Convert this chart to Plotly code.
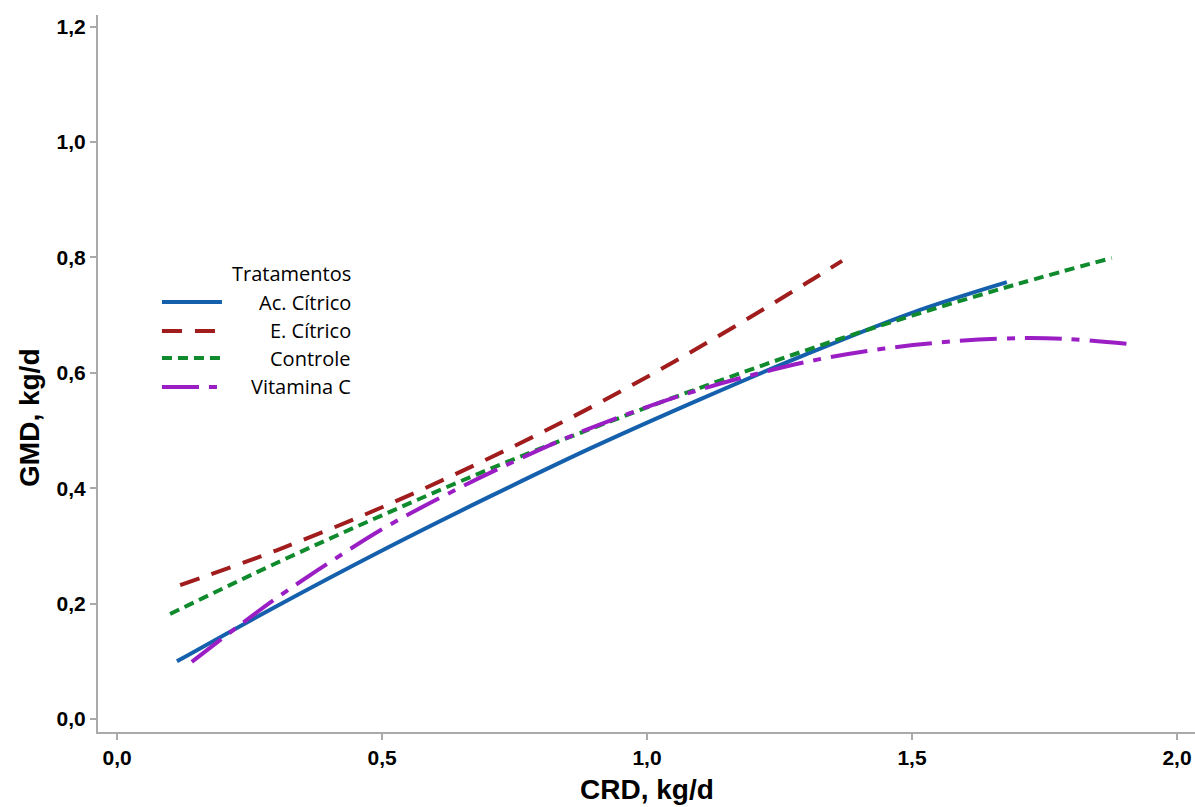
import plotly.graph_objects as go

# ---- data ----
ac_x = [0.113, 0.3, 0.5, 0.7, 0.9, 1.1, 1.3, 1.5, 1.679]
ac_y = [0.100, 0.195, 0.292, 0.384, 0.472, 0.554, 0.632, 0.704, 0.757]

ec_x = [0.119, 0.3, 0.5, 0.7, 0.9, 1.1, 1.3, 1.368]
ec_y = [0.232, 0.292, 0.367, 0.451, 0.543, 0.645, 0.755, 0.794]

ct_x = [0.10, 0.3, 0.5, 0.7, 0.9, 1.1, 1.3, 1.5, 1.7, 1.877]
ct_y = [0.182, 0.270, 0.353, 0.432, 0.505, 0.574, 0.639, 0.699, 0.754, 0.799]

vc_x = [0.141, 0.219, 0.294, 0.377, 0.502, 0.613, 0.723, 0.874, 1.062, 1.219, 1.345, 1.502, 1.66, 1.785, 1.908]
vc_y = [0.099, 0.154, 0.205, 0.257, 0.330, 0.385, 0.435, 0.497, 0.560, 0.601, 0.627, 0.648, 0.659, 0.659, 0.650]

names = ["Ac. Cítrico", "E. Cítrico", "Controle", "Vitamina C"]
xs = [ac_x, ec_x, ct_x, vc_x]
ys = [ac_y, ec_y, ct_y, vc_y]
colors = ["#1560ad", "#a11c1c", "#0f8a2c", "#9a1ec4"]
dashes = ["solid", "20px,13px", "10px,6px", "37px,10px,8px,10px"]

x_ticks = [0.0, 0.5, 1.0, 1.5, 2.0]
y_ticks = [0.0, 0.2, 0.4, 0.6, 0.8, 1.0, 1.2]

fig = go.Figure()
for n, x, y, c, d in zip(names, xs, ys, colors, dashes):
    fig.add_trace(go.Scatter(x=x, y=y, mode="lines", name=n, showlegend=False,
                             line=dict(color=c, width=4, dash=d, shape="spline", smoothing=1.0)))

tick_font = dict(family="Liberation Sans, Arial", size=21, color="black", weight="bold")
fig.update_xaxes(range=[-0.036, 2.034], tickvals=x_ticks, tickformat=".1f",
                 showline=True, linecolor="#aaaaaa", linewidth=2, ticks="outside",
                 tickcolor="#aaaaaa", ticklen=6, tickwidth=1.5, showgrid=False, zeroline=False,
                 tickfont=tick_font)
fig.update_yaxes(range=[-0.0225, 1.22], tickvals=y_ticks, tickformat=".1f",
                 showline=True, linecolor="#aaaaaa", linewidth=2, ticks="outside",
                 tickcolor="#aaaaaa", ticklen=6, tickwidth=1.5, showgrid=False, zeroline=False,
                 tickfont=tick_font)

# axis titles
fig.add_annotation(text="<b>CRD, kg/d</b>", xref="paper", yref="paper", x=0.5, y=-0.0795,
                   xanchor="center", yanchor="middle", showarrow=False,
                   font=dict(family="Liberation Sans, Arial", size=28, color="black"))
fig.add_annotation(text="<b>GMD, kg/d</b>", xref="paper", yref="paper", x=-0.062, y=0.438,
                   xanchor="center", yanchor="middle", showarrow=False, textangle=-90,
                   font=dict(family="Liberation Sans, Arial", size=28, color="black"))

# legend (drawn manually to reproduce right-aligned labels)
leg_font = dict(family="Open Sans", size=20, color="black")
fig.add_annotation(text="Tratamentos", xref="paper", yref="paper", x=0.2325, y=0.640,
                   xanchor="right", yanchor="middle", showarrow=False, font=leg_font)
row_y = [0.5997, 0.5593, 0.5216, 0.4812]
for n, c, d, ry in zip(names, colors, dashes, row_y):
    fig.add_shape(type="line", xref="paper", yref="paper", x0=0.0583, x1=0.1130, y0=ry, y1=ry,
                  line=dict(color=c, width=4, dash=d))
    fig.add_annotation(text=n, xref="paper", yref="paper", x=0.2325, y=ry,
                       xanchor="right", yanchor="middle", showarrow=False, font=leg_font)

fig.update_layout(width=1195, height=807, paper_bgcolor="white", plot_bgcolor="white",
                  margin=dict(l=98, r=0, t=15, b=75), separators=",.", showlegend=False)

# remove the default 8px page margin so the figure fills the window exactly
fig.write_html("out.html", config={"displayModeBar": False},
               post_script="document.body.style.margin='0';document.body.style.overflow='hidden';")
